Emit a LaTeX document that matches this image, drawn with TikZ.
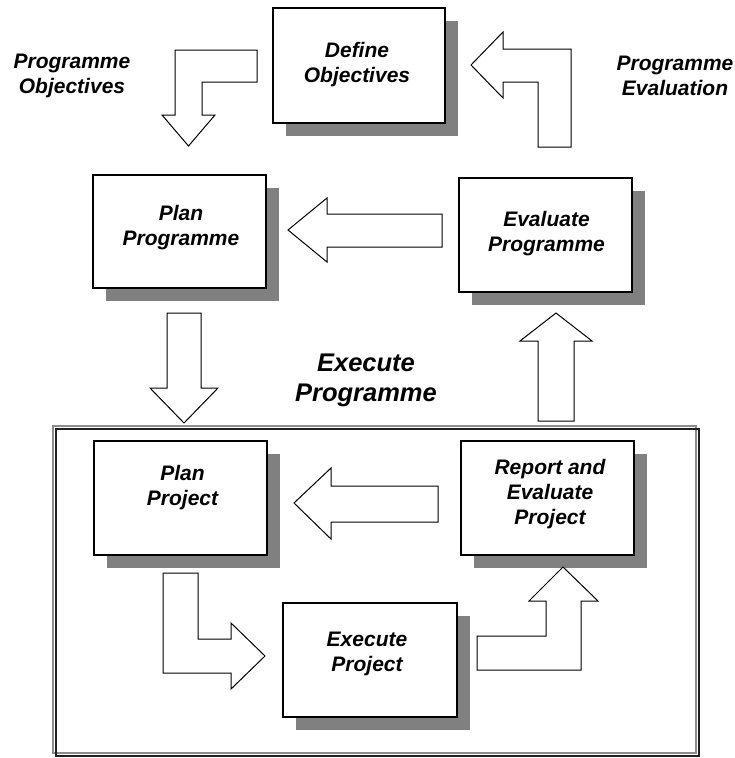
\documentclass[tikz,border=0pt]{standalone}
\usepackage{fontspec}
\setmainfont{Liberation Sans}
\usetikzlibrary{shadows}
\definecolor{shadowgray}{HTML}{808080}
\definecolor{framegray}{HTML}{8C8C8C}
\definecolor{framedark}{HTML}{202020}
\begin{document}
\begin{tikzpicture}[x=1pt,y=-1pt,
  boxshape/.style={draw=black, line width=1.3pt, fill=white, inner sep=0pt,
    minimum width=173pt, minimum height=114pt,
    drop shadow={shadow xshift=13pt, shadow yshift=-13pt, opacity=1, fill=shadowgray}},
  boxtext/.style={align=center, inner sep=0pt, font=\fontsize{21}{25}\selectfont\bfseries\itshape},
  bigtext/.style={align=center, inner sep=0pt, font=\fontsize{25.5}{30}\selectfont\bfseries\itshape},
  blockarrow/.style={draw=black, line width=1pt, fill=white, line join=miter}]
\useasboundingbox (0,0) rectangle (734,758);

% frame around the project cycle
\draw[framegray, line width=1.2pt] (53,426) rectangle (696,753);
\draw[framedark, line width=2.5pt] (56,429) rectangle (699,756);

% boxes
\node[boxshape, minimum width=172pt, minimum height=115pt] (do) at (359,65.5) {};
\node[boxshape, minimum height=113pt] (pp) at (179.5,231.5) {};
\node[boxshape] (ep) at (545.5,235) {};
\node[boxshape] (pj) at (180.5,498) {};
\node[boxshape] (re) at (547.5,498) {};
\node[boxshape, minimum width=174pt] (ex) at (370,660) {};

% box texts
\node[boxtext] (dot) at (357,64.5) {Define\\Objectives};
\node[boxtext] (ppt) at (181,227.5) {Plan\\Programme};
\node[boxtext] (ept) at (546.5,233.5) {Evaluate\\Programme};
\node[boxtext] (pjt) at (182.5,487.5) {Plan\\Project};
\node[boxtext] (ret) at (550,494.5) {Report and\\Evaluate\\Project};
\node[boxtext] (ext) at (367,654) {Execute\\Project};

% free labels
\node[boxtext] (pol) at (72,75.5) {Programme\\Objectives};
\node[boxtext] (pel) at (675,75.5) {Programme\\Evaluation};
\node[bigtext] (epl) at (366,380) {Execute\\Programme};

% block arrows
% Define Objectives -> Plan Programme
\draw[blockarrow] (257,50) -- (175,50) -- (175,115) -- (162,115) -- (188.5,146)
  -- (215,115) -- (202,115) -- (202,82) -- (257,82) -- cycle;
% Evaluate Programme -> Define Objectives
\draw[blockarrow] (471,65) -- (503,32) -- (503,49) -- (571,49) -- (571,147)
  -- (538,147) -- (538,82) -- (503,82) -- (503,98) -- cycle;
% Evaluate Programme -> Plan Programme
\draw[blockarrow] (288,230) -- (327,198) -- (327,214) -- (442,214) -- (442,247)
  -- (327,247) -- (327,262) -- cycle;
% Plan Programme -> Execute Programme
\draw[blockarrow] (167,313) -- (201,313) -- (201,388) -- (218,388) -- (184,423)
  -- (150,388) -- (167,388) -- cycle;
% Execute Programme -> Evaluate Programme
\draw[blockarrow] (538,421) -- (574,421) -- (574,341) -- (592,341) -- (556,313)
  -- (520,341) -- (538,341) -- cycle;
% Report and Evaluate Project -> Plan Project
\draw[blockarrow] (294,503) -- (331,468) -- (331,486) -- (438,486) -- (438,522)
  -- (331,522) -- (331,539) -- cycle;
% Plan Project -> Execute Project
\draw[blockarrow] (163,573) -- (198,573) -- (198,639) -- (231,639) -- (231,623)
  -- (265,656) -- (231,689) -- (231,673) -- (163,673) -- cycle;
% Execute Project -> Report and Evaluate Project
\draw[blockarrow] (477,636) -- (546,636) -- (546,601) -- (529,601) -- (563,567)
  -- (598,601) -- (581,601) -- (581,670) -- (477,670) -- cycle;
\end{tikzpicture}
\end{document}
